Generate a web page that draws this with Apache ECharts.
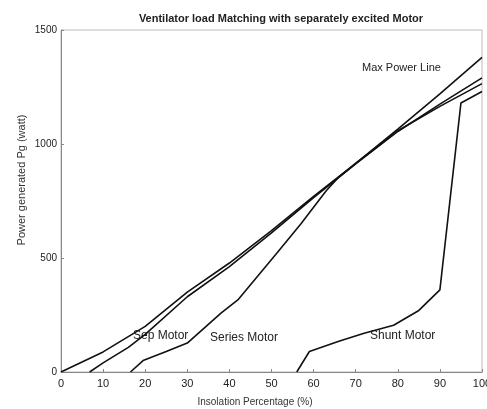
<!DOCTYPE html>
<html><head><meta charset="utf-8">
<script src="https://cdn.jsdelivr.net/npm/echarts@6/dist/echarts.min.js"></script>
<style>html,body{margin:0;padding:0;background:#fff}#c{width:487px;height:409px}</style>
</head><body><div id="c"></div>
<script>
const xTicks = [0,10,20,30,40,50,60,70,80,90,100];
const yTicks = [0,500,1000,1500];
const maxPowerX = [0,10,20,30,40,50,60,70,80,90,100];
const maxPowerY = [0,88,200,350,478,620,770,915,1065,1220,1380];
const sepX = [6.8,10,16,20,30,40,50,60,70,80,90,100];
const sepY = [0,40,108,165,330,462,610,765,913,1055,1175,1290];
const seriesX = [16.5,19.5,25,30,38,42,51,57,63,66,70,80,90,100];
const seriesY = [0,50,90,127,258,316,515,650,795,855,915,1058,1165,1265];
const shuntX = [56,59,66,72,79,85,90,95,100];
const shuntY = [0,90,135,170,205,270,360,1180,1230];
const labels = ["Max Power Line","Sep Motor","Series Motor","Shunt Motor"];
const titleText = 'Ventilator load Matching with separately excited Motor';
const xName = 'Insolation Percentage (%)';
const yName = 'Power generated Pg (watt)';

const pairs = (xs, ys) => xs.map((x,i)=>[x, ys[i]]);
const mk = (name, xs, ys) => ({
  name, type:'line', data: pairs(xs, ys), showSymbol:false, smooth:false,
  lineStyle:{color:'#111', width:1.6}, silent:true
});
const ff = 'Liberation Sans';
const chart = echarts.init(document.getElementById('c'));
chart.setOption({
  animation:false,
  backgroundColor:'#fff',
  title:{text:titleText, left:276, top:8, textAlign:'center',
    textStyle:{fontSize:11, fontWeight:'bold', color:'#222', fontFamily:ff}},
  grid:{left:61, right:5, top:30, bottom:37, show:true, borderColor:'#bbb', borderWidth:1, outerBoundsMode:'none', containLabel:false},
  xAxis:{type:'value', min:0, max:100, interval:10,
    axisLine:{lineStyle:{color:'#888'}}, axisTick:{inside:true, length:3, lineStyle:{color:'#888'}},
    splitLine:{show:false},
    axisLabel:{fontSize:11, color:'#222', margin:6, fontFamily:ff,
      formatter:v=>xTicks.includes(v)?String(v):''}},
  yAxis:{type:'value', min:0, max:1500, interval:500,
    axisLine:{show:true, lineStyle:{color:'#888'}}, axisTick:{inside:true, length:3, lineStyle:{color:'#888'}},
    splitLine:{show:false},
    axisLabel:{fontSize:10, color:'#222', margin:4, fontFamily:ff,
      formatter:v=>yTicks.includes(v)?String(v):''}},
  graphic:[
    {type:'text', left:362, top:62, style:{text:labels[0], fontSize:11, fill:'#222', fontFamily:ff}},
    {type:'text', left:133, top:330, style:{text:labels[1], fontSize:12, fill:'#222', fontFamily:ff}},
    {type:'text', left:210, top:332, style:{text:labels[2], fontSize:12, fill:'#222', fontFamily:ff}},
    {type:'text', left:370, top:330, style:{text:labels[3], fontSize:12, fill:'#222', fontFamily:ff}},
    {type:'text', x:255, y:402, style:{text:xName, fontSize:10, fill:'#333', fontFamily:ff, align:'center', verticalAlign:'middle'}},
    {type:'text', x:22, y:180, rotation:Math.PI/2, style:{text:yName, fontSize:11, fill:'#333', fontFamily:ff, align:'center', verticalAlign:'middle'}}
  ],
  series:[
    mk(labels[0], maxPowerX, maxPowerY),
    mk(labels[1], sepX, sepY),
    mk(labels[2], seriesX, seriesY),
    mk(labels[3], shuntX, shuntY)
  ]
});
</script></body></html>
